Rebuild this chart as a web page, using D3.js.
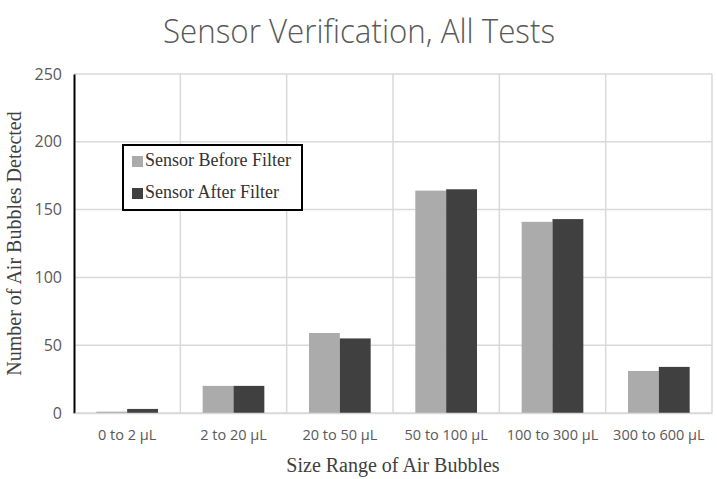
<!DOCTYPE html>
<html>
<head>
<meta charset='UTF-8'>
<title>Sensor Verification</title>
<script src='https://cdn.jsdelivr.net/npm/d3@7'></script>
<style>
  body { margin:0; background:#fff; }
  .tick text { font-family:'Open Sans', sans-serif; fill:#595959; }
</style>
</head>
<body>
<div id='chart'></div>
<script>
var categories = ['0 to 2 \u00b5L', '2 to 20 \u00b5L', '20 to 50 \u00b5L', '50 to 100 \u00b5L', '100 to 300 \u00b5L', '300 to 600 \u00b5L'];
var seriesNames = ['Sensor Before Filter', 'Sensor After Filter'];
var beforeFilter = [1, 20, 59, 164, 141, 31];
var afterFilter = [3, 20, 55, 165, 143, 34];
var yTicks = [0, 50, 100, 150, 200, 250];

var width = 717, height = 479;
var margin = {top: 74, right: 5, bottom: 66, left: 74};
var colors = ['#ababab', '#404040'];

var svg = d3.select('#chart').append('svg')
  .attr('width', width)
  .attr('height', height);

var g = svg.append('g')
  .attr('transform', `translate(${margin.left}, ${margin.top})`);

var w = width - margin.left - margin.right;   // 638
var h = height - margin.top - margin.bottom;  // 339

var x = d3.scaleBand().domain(categories).range([0, w]);
var xs = d3.scaleBand().domain(seriesNames).range([x.bandwidth() * 0.21, x.bandwidth() * 0.79]);
var y = d3.scaleLinear().domain([0, 250]).range([h, 0]);

/* grid */
g.selectAll('.hgrid').data(yTicks).enter()
  .append('line')
  .attr('x1', 0).attr('x2', w)
  .attr('y1', d => y(d)).attr('y2', d => y(d))
  .attr('stroke', '#d9d9d9').attr('stroke-width', 1.5);

g.selectAll('.vgrid').data(categories.slice(1).concat(['end'])).enter()
  .append('line')
  .attr('x1', (d, i) => x.step() * (i + 1)).attr('x2', (d, i) => x.step() * (i + 1))
  .attr('y1', 0).attr('y2', h)
  .attr('stroke', '#d9d9d9').attr('stroke-width', 1.5);

/* bars */
var data = categories.map((c, i) => ({cat: c, vals: [beforeFilter[i], afterFilter[i]]}));

g.selectAll('.grp').data(data).enter()
  .append('g')
  .attr('transform', d => `translate(${x(d.cat)}, 0)`)
  .selectAll('rect')
  .data(d => d.vals.map((v, j) => ({name: seriesNames[j], v: v, j: j})))
  .enter().append('rect')
  .attr('x', d => xs(d.name))
  .attr('width', xs.bandwidth())
  .attr('y', d => y(d.v))
  .attr('height', d => h - y(d.v))
  .attr('fill', d => colors[d.j]);

/* axes */
var yAxis = g.append('g')
  .call(d3.axisLeft(y).tickValues(yTicks).tickSize(0).tickPadding(12));
yAxis.select('.domain').attr('stroke', '#000').attr('stroke-width', 2);
yAxis.selectAll('text').style('font-size', '16px');

var xAxis = g.append('g')
  .attr('transform', `translate(0, ${h})`)
  .call(d3.axisBottom(x).tickSize(0).tickPadding(17));
xAxis.select('.domain').attr('stroke', '#d9d9d9').attr('stroke-width', 1.5);
xAxis.selectAll('text').style('font-size', '14.5px');

/* titles */
svg.append('text')
  .attr('x', 359).attr('y', 43)
  .attr('text-anchor', 'middle')
  .attr('textLength', 392)
  .attr('lengthAdjust', 'spacingAndGlyphs')
  .style('font-family', "'Open Sans', sans-serif")
  .style('font-weight', 300)
  .style('font-size', '33px')
  .style('fill', '#595959')
  .text('Sensor Verification, All Tests');

svg.append('text')
  .attr('x', margin.left + w / 2).attr('y', 472)
  .attr('text-anchor', 'middle')
  .style('font-family', "'Liberation Serif', serif")
  .style('font-size', '20px')
  .style('fill', '#404040')
  .text('Size Range of Air Bubbles');

svg.append('text')
  .attr('transform', `translate(21, ${margin.top + h / 2}) rotate(-90)`)
  .attr('text-anchor', 'middle')
  .style('font-family', "'Liberation Serif', serif")
  .style('font-size', '20px')
  .style('fill', '#404040')
  .text('Number of Air Bubbles Detected');

/* legend */
var legend = svg.append('g').attr('transform', 'translate(123, 145)');
legend.append('rect')
  .attr('width', 179).attr('height', 65)
  .attr('fill', '#fff').attr('stroke', '#000').attr('stroke-width', 2);

var items = legend.selectAll('.item').data(seriesNames).enter()
  .append('g')
  .attr('transform', (d, i) => `translate(9, ${11 + i * 32})`);
items.append('rect')
  .attr('width', 11).attr('height', 11).attr('y', 0)
  .attr('fill', (d, i) => colors[i]);
items.append('text')
  .attr('x', 13).attr('y', 10)
  .style('font-family', "'Liberation Serif', serif")
  .style('font-size', '18px')
  .style('fill', '#333')
  .text(d => d);
</script>
</body>
</html>
